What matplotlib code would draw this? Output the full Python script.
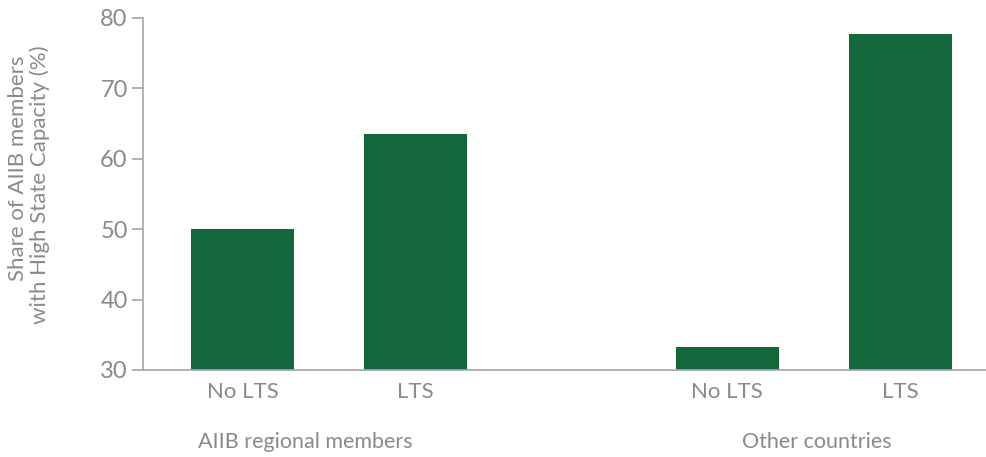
import matplotlib
matplotlib.use("Agg")
import matplotlib.pyplot as plt

categories = ["No LTS", "LTS", "No LTS", "LTS"]
values = [50.0, 63.5, 33.2, 77.7]
groups = ["AIIB regional members", "Other countries"]
yticks = [30, 40, 50, 60, 70, 80]

positions = [0, 1, 2.8, 3.8]
group_pos = [0.36, 3.315]

plt.rcParams['font.family'] = ['Lato', 'DejaVu Sans']
grey = "#8a8a8c"
spine = "#a6a6a8"
green = "#12683b"

fig = plt.figure(figsize=(9.87, 4.57), dpi=100)
ax = fig.add_axes([143/987, 1 - 370/457, 1 - 143/987, (370 - 18)/457])

ax.bar(positions, [v - 30 for v in values], bottom=30, width=0.595, color=green)
ax.set_ylim(30, 80)
ax.set_xlim(-0.575, 4.3)
ax.set_yticks(yticks)
ax.set_yticklabels([str(t) for t in yticks], fontsize=17, color=grey)
ax.set_xticks(positions)
ax.set_xticklabels(categories, fontsize=16, color=grey)
ax.tick_params(axis='y', length=8, color=spine, width=1.2, pad=3)
ax.tick_params(axis='x', length=0, pad=9)
for s in ["top", "right"]:
    ax.spines[s].set_visible(False)
for s in ["left", "bottom"]:
    ax.spines[s].set_color(spine)
    ax.spines[s].set_linewidth(1.2)

for g, p in zip(groups, group_pos):
    ax.text(p, -0.205, g, transform=ax.get_xaxis_transform(), ha='center', va='center',
            fontsize=15.5, color=grey)

fig.text(18/987, 1 - 168/457, "Share of AIIB members", rotation=90, ha='center', va='center',
         fontsize=16, color=grey)
fig.text(40/987, 1 - 185/457, "with High State Capacity (%)", rotation=90, ha='center', va='center',
         fontsize=16, color=grey)

fig.savefig("out.png", dpi=100)
